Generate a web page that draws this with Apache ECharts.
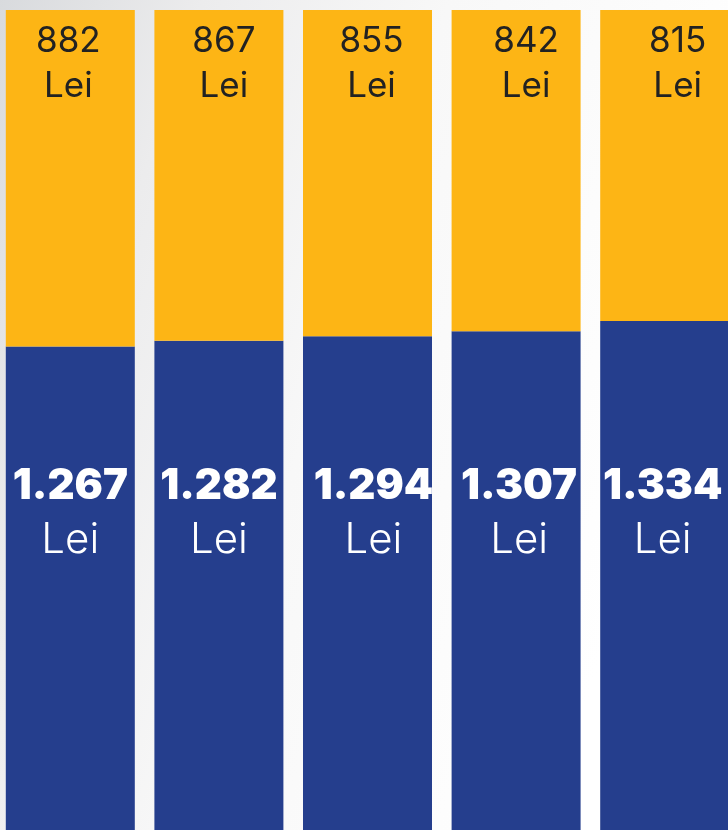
<!DOCTYPE html>
<html>
<head>
<meta charset="utf-8">
<script src="https://cdn.jsdelivr.net/npm/echarts@6/dist/echarts.min.js"></script>
<style>
html,body{margin:0;padding:0;width:728px;height:830px;overflow:hidden;background:#fff;}
#c{position:absolute;left:-4px;top:0;width:743px;height:830px;}
</style>
</head>
<body>
<div id="c"></div>
<script>
const categories = ["1", "2", "3", "4", "5"];
const blueValues = [1267, 1282, 1294, 1307, 1334];
const yellowValues = [882, 867, 855, 842, 815];
const unit = "Lei";

function fmt(v) {
  return String(v).replace(/\B(?=(\d{3})+(?!\d))/g, ".");
}

// small horizontal label nudges seen in the reference
const yellowNudge = [-2, 5, 4, 10, 13];
const blueNudge = [0, 0, 6, 3, -2];

const chart = echarts.init(document.getElementById('c'), null, {renderer: 'canvas'});

const option = {
  animation: false,
  backgroundColor: {
    type: 'linear', x: 0, y: 0, x2: 1, y2: 0.3,
    colorStops: [
      {offset: 0, color: '#d8dadd'},
      {offset: 0.25, color: '#ececed'},
      {offset: 0.55, color: '#f8f8f8'},
      {offset: 1, color: '#ffffff'}
    ]
  },
  grid: {left: 0, right: 0, top: 10, bottom: 0, containLabel: false},
  xAxis: {type: 'category', data: categories, show: false},
  yAxis: {type: 'value', min: 0, max: 'dataMax', show: false},
  series: [
    {
      type: 'bar',
      stack: 'total',
      barWidth: 129,
      itemStyle: {color: '#253e8d'},
      data: blueValues.map((v, i) => ({
        value: v,
        label: {offset: [blueNudge[i], 0]}
      })),
      label: {
        show: true,
        position: 'insideBottom',
        distance: 263,
        formatter: p => '{a|' + fmt(p.value) + '}\n{b|' + unit + '}',
        rich: {
          a: {fontFamily: 'Inter', fontWeight: 900, fontSize: 42, color: '#ffffff', lineHeight: 54, align: 'center'},
          b: {fontFamily: 'Inter', fontWeight: 300, fontSize: 42, color: '#ffffff', lineHeight: 54, align: 'center'}
        }
      }
    },
    {
      type: 'bar',
      stack: 'total',
      barWidth: 129,
      itemStyle: {color: '#fdb515'},
      data: yellowValues.map((v, i) => ({
        value: v,
        label: {offset: [yellowNudge[i], 0]}
      })),
      label: {
        show: true,
        position: 'insideTop',
        distance: 9,
        formatter: p => '{a|' + fmt(p.value) + '}\n{b|' + unit + '}',
        rich: {
          a: {fontFamily: 'Inter', fontWeight: 400, fontSize: 35, color: '#222222', lineHeight: 45, align: 'center'},
          b: {fontFamily: 'Inter', fontWeight: 400, fontSize: 35, color: '#222222', lineHeight: 45, align: 'center'}
        }
      }
    }
  ]
};
chart.setOption(option);
</script>
</body>
</html>
